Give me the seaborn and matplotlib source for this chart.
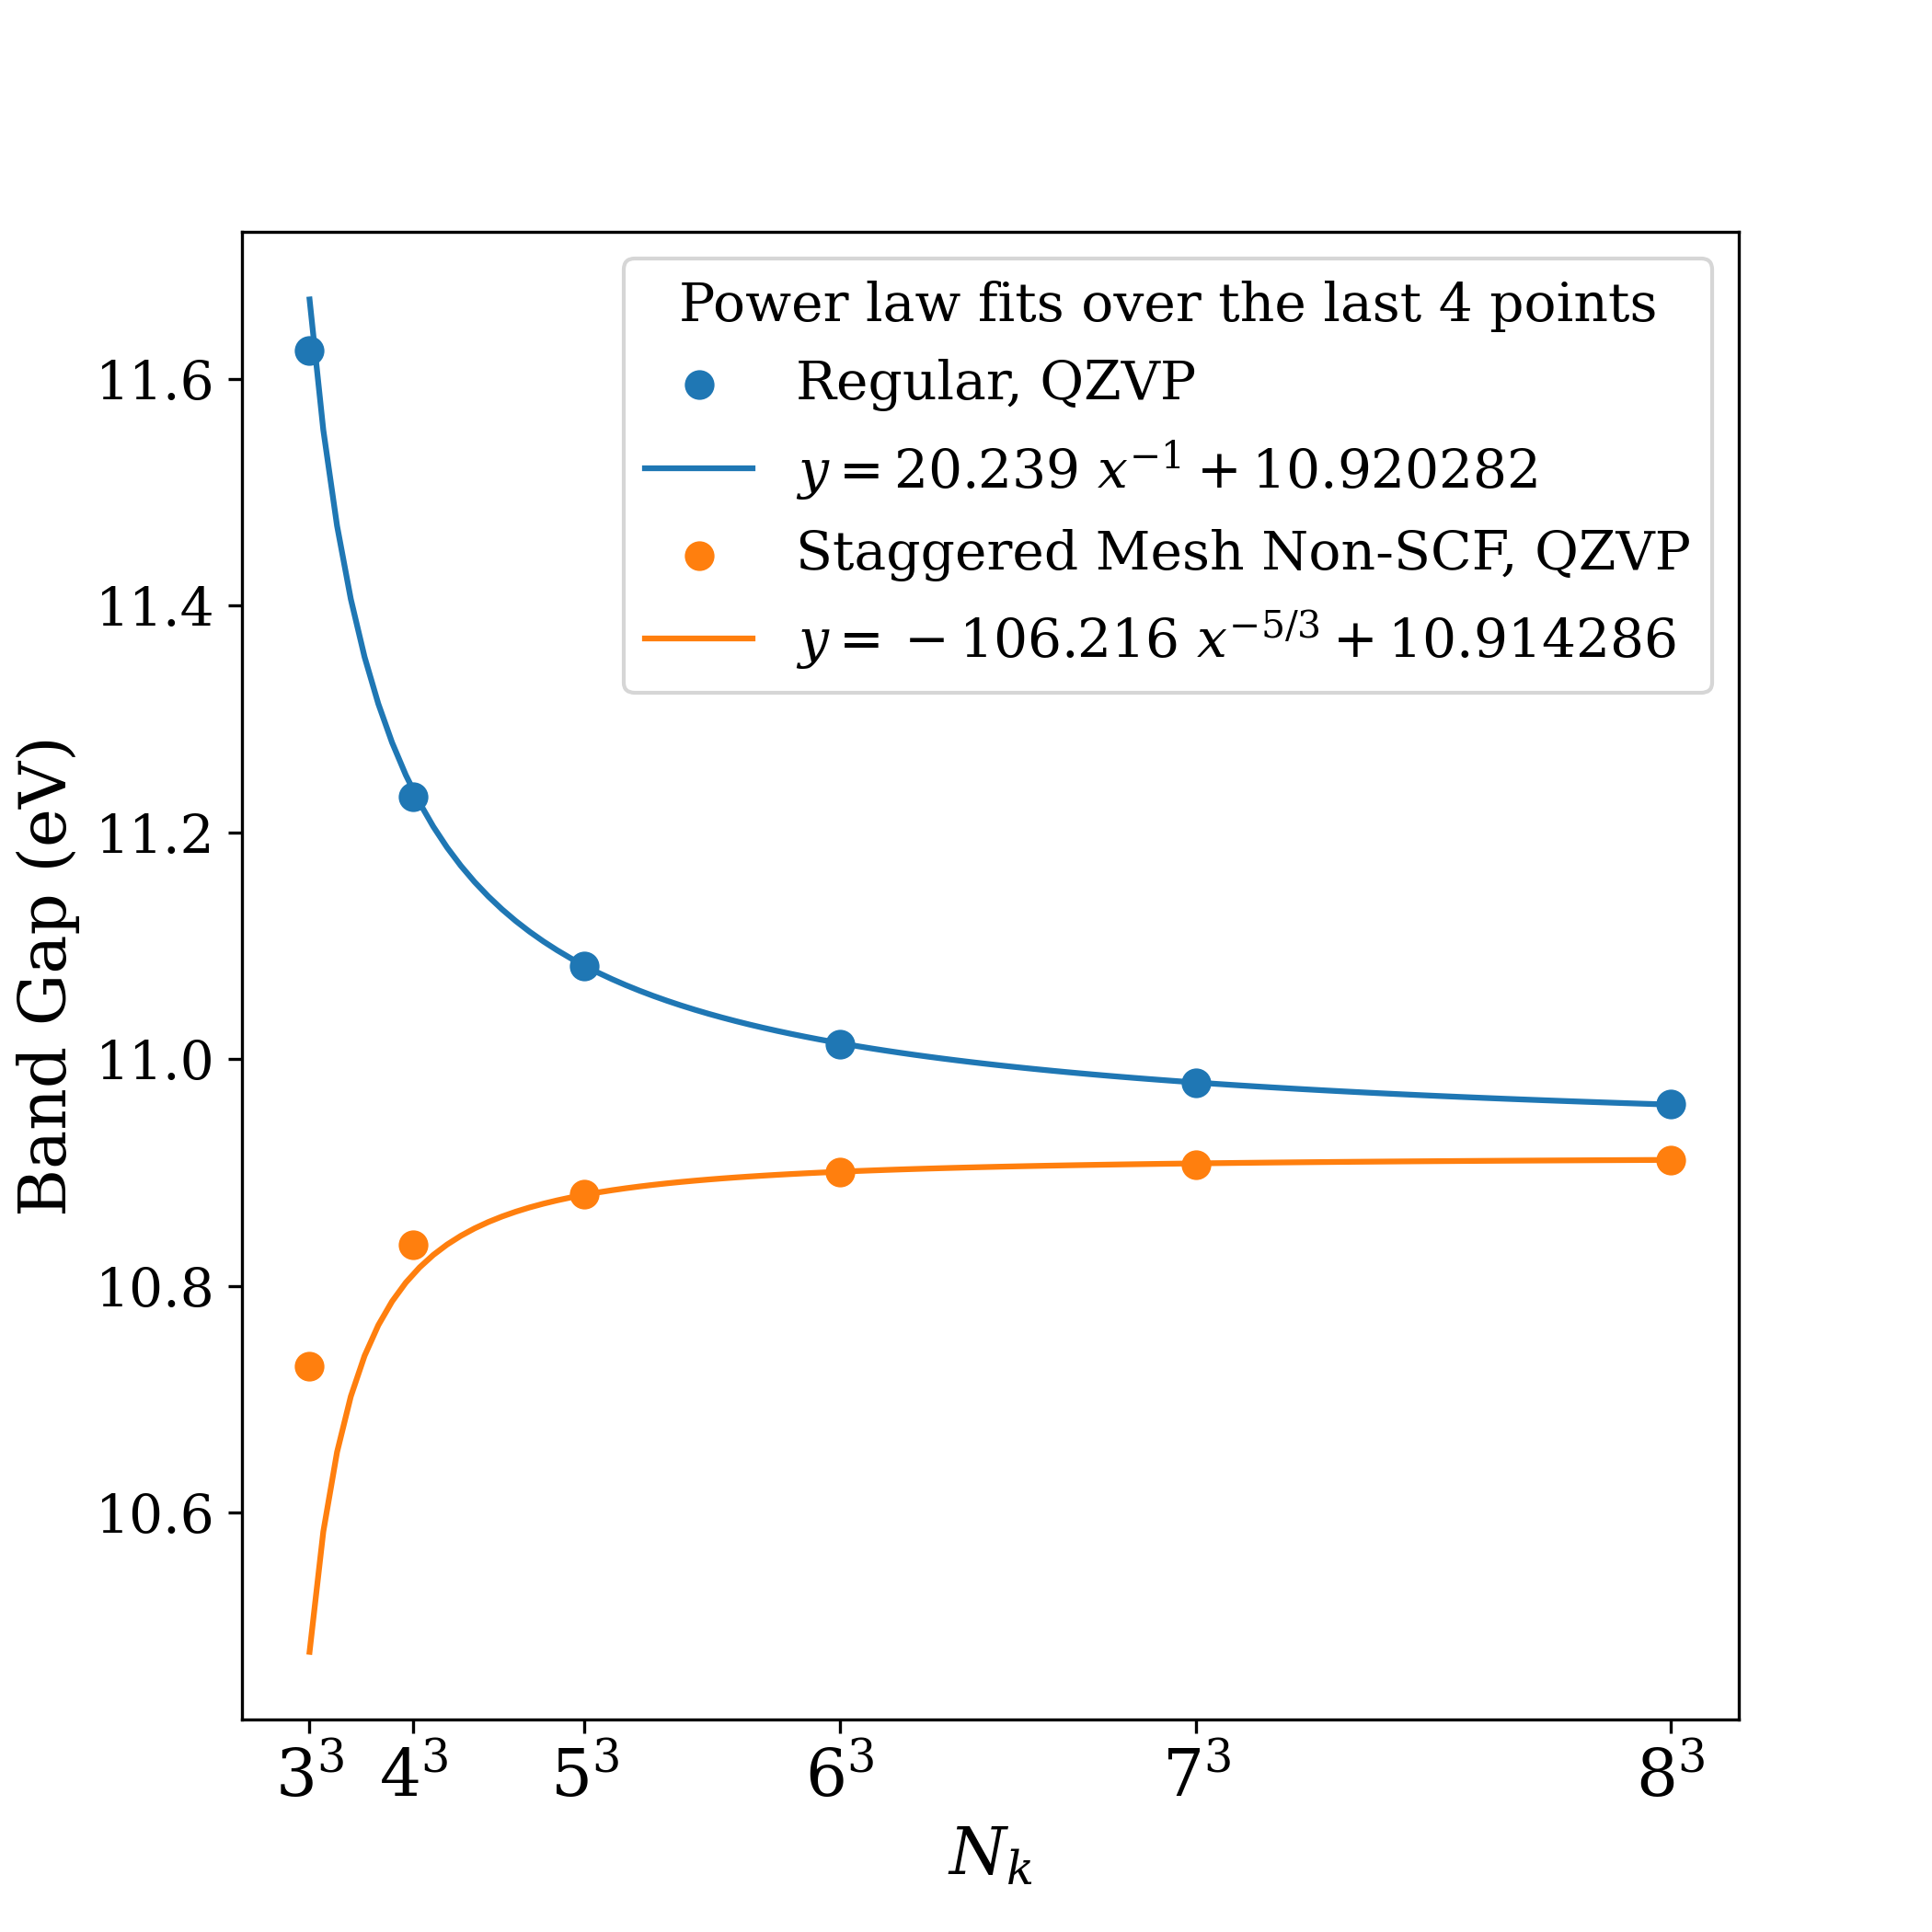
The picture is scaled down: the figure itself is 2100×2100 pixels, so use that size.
import numpy as np
import matplotlib
matplotlib.use("Agg")
import matplotlib.pyplot as plt
import seaborn as sns

# -----------------------------
# Data
# -----------------------------
nk = [27, 64, 125, 216, 343, 512]
nk_labels = ["$3^3$", "$4^3$", "$5^3$", "$6^3$", "$7^3$", "$8^3$"]

gap_regular = [11.625, 11.231, 11.082, 11.013, 10.979, 10.960]
gap_staggered = [10.729, 10.836, 10.881, 10.900, 10.907, 10.911]

# power-law fit coefficients (from the legend): y = a * x**p + c
fit_regular = (20.239, -1.0, 10.920282)
fit_staggered = (-106.216, -5.0 / 3.0, 10.914286)

label_regular = "Regular, QZVP"
label_staggered = "Staggered Mesh Non-SCF, QZVP"
label_fit_regular = r"$y = 20.239\ x^{-1} + 10.920282$"
label_fit_staggered = r"$y = {}- 106.216\ x^{-5/3} + 10.914286$"

plt.rcParams["font.family"] = ["DejaVu Serif"]
plt.rcParams["mathtext.fontset"] = "dejavuserif"
plt.rcParams["font.size"] = 14

blue = "#1f77b4"
orange = "#ff7f0e"

x_fit = np.linspace(nk[0], nk[-1], 100)


def power_law(x, coef):
    a, p, c = coef
    return a * x ** p + c


fig, ax = plt.subplots(figsize=(7, 7), dpi=300)

# -----------------------------
# Points + fitted curves
# -----------------------------
sns.scatterplot(x=nk, y=gap_regular, color=blue, s=60, linewidth=0,
                label=label_regular, ax=ax)
sns.lineplot(x=x_fit, y=power_law(x_fit, fit_regular), color=blue, lw=1.5,
             label=label_fit_regular, ax=ax)
sns.scatterplot(x=nk, y=gap_staggered, color=orange, s=60, linewidth=0,
                label=label_staggered, ax=ax)
sns.lineplot(x=x_fit, y=power_law(x_fit, fit_staggered), color=orange, lw=1.5,
             label=label_fit_staggered, ax=ax)

ax.set_xticks(nk)
ax.set_xticklabels(nk_labels, fontsize=17)
ax.set_xlabel("$N_k$", fontsize=17)
ax.set_ylabel("Band Gap (eV)", fontsize=17)

ax.legend(title="Power law fits over the last 4 points", loc="upper right",
          fontsize=14, title_fontsize=14)

plt.savefig("out.png", dpi=300)
plt.close()
